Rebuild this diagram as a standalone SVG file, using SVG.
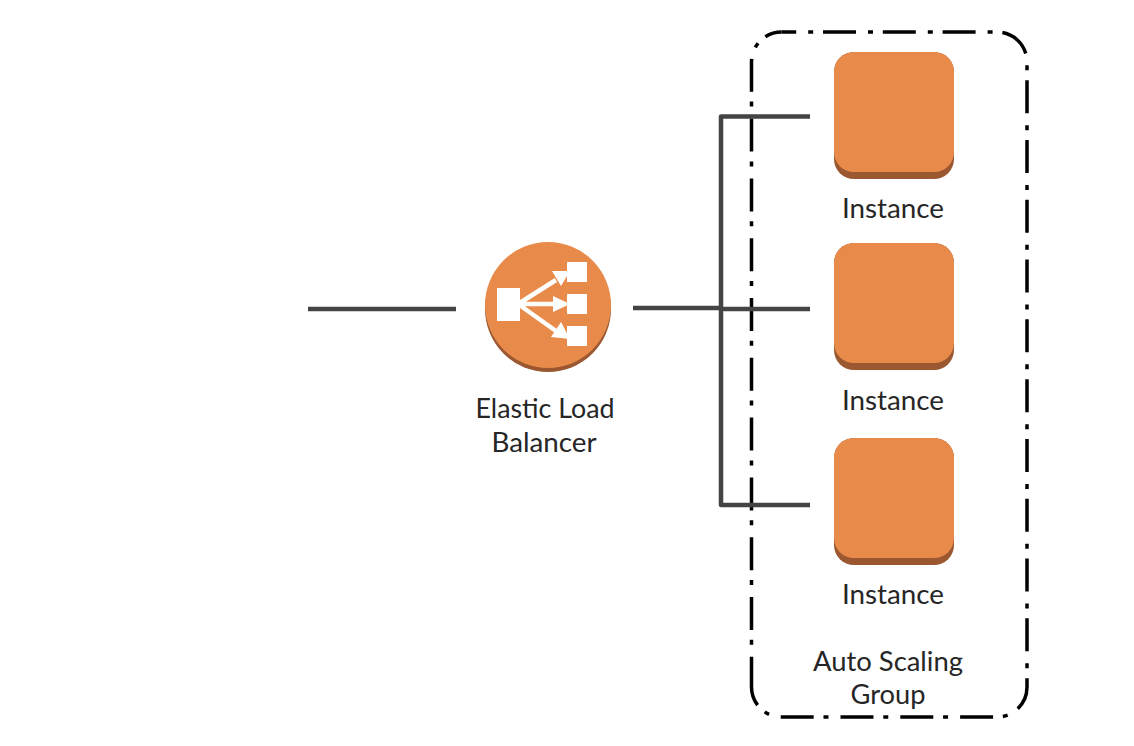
<svg xmlns="http://www.w3.org/2000/svg" width="1134" height="746" viewBox="0 0 1134 746">
<style>
text{font-family:Lato,"Open Sans","Liberation Sans",sans-serif;font-size:26px;fill:#262626;text-anchor:middle}
.wire{fill:none;stroke:#444;stroke-width:4.5;stroke-linejoin:round}
.border{fill:none;stroke:#000;stroke-width:3.5;stroke-dasharray:33 12 5 9.8}
.arrow{fill:none;stroke:#fff;stroke-width:4.5}
.ic{fill:#fff}
</style>
<defs>
<g id="inst">
<rect x="834" y="0" width="120" height="127" rx="20" fill="#9a5730"/>
<rect x="834" y="0" width="120" height="120" rx="20" fill="#e88b4a"/>
</g>
</defs>
<rect width="1134" height="746" fill="#fff"/>
<g id="asg">
<path class="border" stroke-dashoffset="-41.5" d="M781.500 32H997A30 30 0 0 1 1027 62V687A30 30 0 0 1 997 717H781.500A30 30 0 0 1 751.500 687"/>
<path class="border" stroke-dashoffset="2.8" d="M751.500 687V62A30 30 0 0 1 781.500 32"/>
<text x="888" y="671" textLength="150" lengthAdjust="spacingAndGlyphs">Auto Scaling</text>
<text x="888" y="704" textLength="75" lengthAdjust="spacingAndGlyphs">Group</text>
</g>
<g id="connectors">
<path class="wire" d="M308 309H456"/>
<path class="wire" stroke-width="5" d="M633 308H721"/>
<path class="wire" d="M810 116.500H721V505H810"/>
<path class="wire" d="M721 309H810"/>
</g>
<g id="elb">
<circle cx="548" cy="309" r="63" fill="#9a5730"/>
<circle cx="548" cy="305" r="63" fill="#e88b4a"/>
<rect class="ic" x="497" y="288" width="23" height="33"/>
<rect class="ic" x="567" y="262" width="20" height="20"/>
<rect class="ic" x="567" y="294" width="20" height="20"/>
<rect class="ic" x="567" y="326" width="20" height="20"/>
<path class="arrow" d="M518 304L556 280M518 304H556M518 304L556 331"/>
<path class="ic" d="M570 271L552 271L561 286ZM570 304L553 296V312ZM570 339L561 322L551 337Z"/>
<text x="545" y="418" textLength="139" lengthAdjust="spacingAndGlyphs">Elastic Load</text>
<text x="544" y="452" textLength="105" lengthAdjust="spacingAndGlyphs">Balancer</text>
</g>
<g id="instance1">
<use href="#inst" y="52"/>
<text x="893" y="218" textLength="102" lengthAdjust="spacingAndGlyphs">Instance</text>
</g>
<g id="instance2">
<use href="#inst" y="243"/>
<text x="893" y="410" textLength="102" lengthAdjust="spacingAndGlyphs">Instance</text>
</g>
<g id="instance3">
<use href="#inst" y="438"/>
<text x="893" y="604" textLength="102" lengthAdjust="spacingAndGlyphs">Instance</text>
</g>
</svg>
